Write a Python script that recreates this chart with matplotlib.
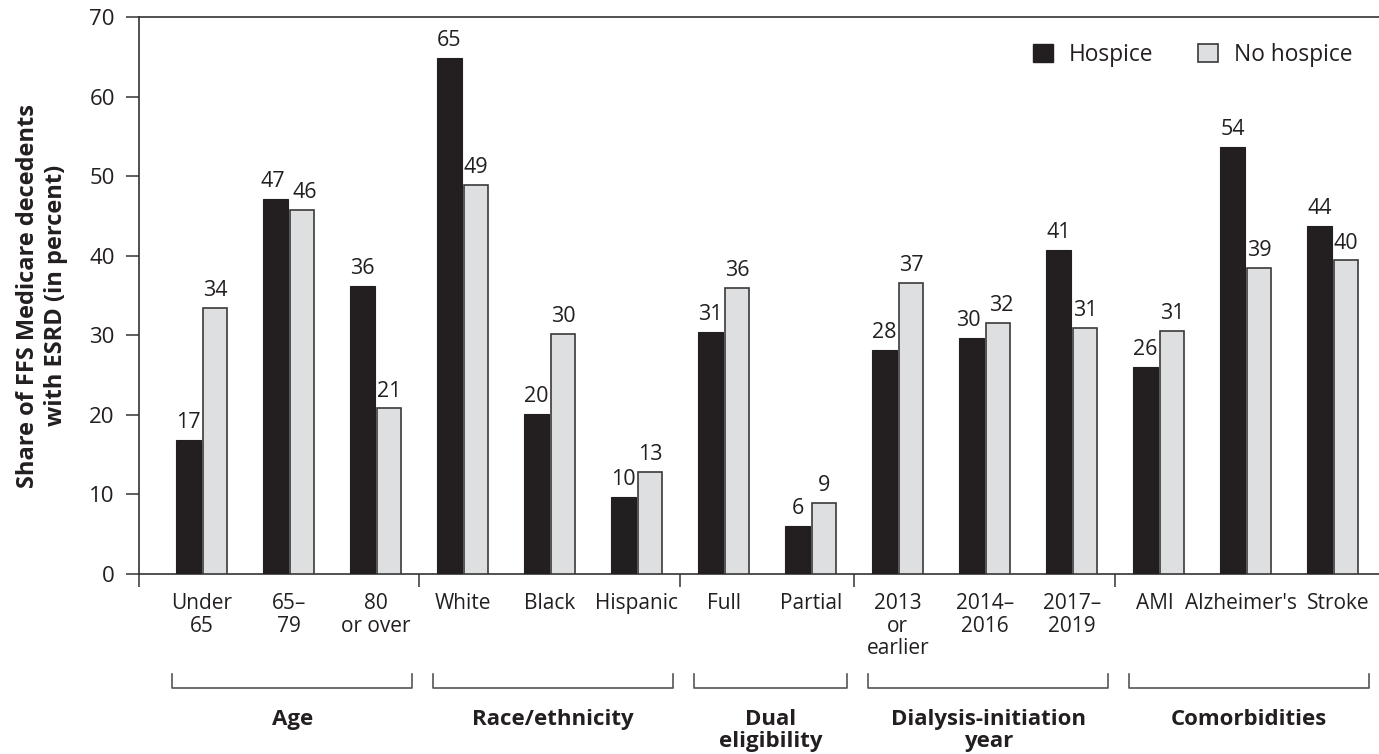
import matplotlib.pyplot as plt
import matplotlib.transforms as mtransforms
import numpy as np
from matplotlib.patches import Patch

plt.rcParams['font.family'] = ['Open Sans', 'DejaVu Sans']

# data
categories = ["Under\n65", "65–\n79", "80\nor over", "White", "Black", "Hispanic",
              "Full", "Partial", "2013\nor\nearlier", "2014–\n2016", "2017–\n2019",
              "AMI", "Alzheimer's", "Stroke"]
hospice = [16.8, 47.1, 36.2, 64.8, 20.1, 9.7, 30.4, 6.0, 28.2, 29.7, 40.7, 26.0, 53.7, 43.7]
no_hospice = [33.4, 45.7, 20.8, 48.9, 30.2, 12.8, 36.0, 8.9, 36.6, 31.5, 30.9, 30.5, 38.5, 39.4]
hospice_labels = [17, 47, 36, 65, 20, 10, 31, 6, 28, 30, 41, 26, 54, 44]
no_hospice_labels = [34, 46, 21, 49, 30, 13, 36, 9, 37, 32, 31, 31, 39, 40]
groups = ["Age", "Race/ethnicity", "Dual\neligibility", "Dialysis-initiation\nyear", "Comorbidities"]
group_sizes = [3, 3, 2, 3, 3]

DARK = "#231f20"
LIGHT = "#dedfe0"
EDGE = "#3a3a3a"
TXT = "#231f20"

fig = plt.figure(figsize=(13.79, 7.54), dpi=100)
ax = fig.add_axes([139 / 1379, 1 - 574 / 754, 1 - 139 / 1379, (574 - 17) / 754])

x = np.arange(len(categories))
w = 0.28
off = 0.152
ax.bar(x - off, hospice, w, color=DARK, edgecolor=DARK, linewidth=0.8, zorder=3)
ax.bar(x + off, no_hospice, w, color=LIGHT, edgecolor=EDGE, linewidth=1.2, zorder=3)

# value labels, nudged apart a little where the two bars are nearly equal
for xi, h, h2, lab in zip(x, hospice, no_hospice, hospice_labels):
    dx = -2 if abs(h - h2) < 2.5 else 0
    ax.annotate(str(lab), (xi - off, h), xytext=(dx, 5), textcoords="offset points",
                ha="center", va="bottom", fontsize=15.5, color=TXT)
for xi, h, h1, lab in zip(x, no_hospice, hospice, no_hospice_labels):
    dx = 2 if abs(h - h1) < 2.5 else 0
    ax.annotate(str(lab), (xi + off, h), xytext=(dx, 5), textcoords="offset points",
                ha="center", va="bottom", fontsize=15.5, color=TXT)

ax.set_xlim(-0.72, 13.53)
ax.set_ylim(0, 70)
ax.set_yticks(range(0, 71, 10))
ax.tick_params(axis="y", length=9.4, width=1.1, color="#333333", pad=8,
               labelsize=16, labelcolor=TXT)

ax.set_xticks(x)
ax.set_xticklabels(categories, linespacing=1.08)
ax.tick_params(axis="x", which="major", length=0, pad=14, labelsize=15, labelcolor=TXT)

# keep "AMI", "Alzheimer's" and "Stroke" from running into each other (points)
shifts = {"AMI": -2.5, "Alzheimer's": -3.2, "Stroke": 3.6}
for lbl in ax.get_xticklabels():
    if lbl.get_text() in shifts:
        lbl.set_transform(lbl.get_transform() + mtransforms.ScaledTranslation(
            shifts[lbl.get_text()] / 72, 0, fig.dpi_scale_trans))

# separator ticks between the groups
bounds = np.cumsum(group_sizes)[:-1] - 0.5
ax.set_xticks([-0.72] + list(bounds), minor=True)
ax.tick_params(axis="x", which="minor", length=9.4, width=1.1, color="#333333")

for s in ["left", "bottom", "top"]:
    ax.spines[s].set_color("#333333")
    ax.spines[s].set_linewidth(1.2)
ax.spines["right"].set_visible(False)

ax.set_ylabel("Share of FFS Medicare decedents\nwith ESRD (in percent)",
              fontsize=17, fontweight="bold", color=TXT, linespacing=1.25, labelpad=15)

# group brackets and titles below the axis
trans = ax.get_xaxis_transform()
start = 0
for name, n in zip(groups, group_sizes):
    a = start - 0.34
    b = start + n - 1 + 0.42
    ax.plot([a, a, b, b], [-0.1795, -0.2047, -0.2047, -0.1795], transform=trans,
            color="#555555", linewidth=1.2, clip_on=False)
    ax.text((a + b) / 2, -0.242, name, transform=trans, ha="center", va="top",
            fontsize=16, fontweight="bold", color=TXT, linespacing=1.05)
    start += n

handles = [Patch(facecolor=DARK, edgecolor=DARK),
           Patch(facecolor=LIGHT, edgecolor=EDGE, linewidth=1.2)]
fig.legend(handles, ["Hospice", "No hospice"], ncol=2, frameon=False,
           loc="center right", bbox_to_anchor=(1352 / 1379, 1 - 55 / 754),
           bbox_transform=fig.transFigure, borderpad=0, borderaxespad=0,
           handlelength=0.88, handleheight=0.88, handletextpad=0.7,
           columnspacing=1.95, fontsize=16.4, labelcolor=TXT)

fig.savefig("out.png", dpi=100)
